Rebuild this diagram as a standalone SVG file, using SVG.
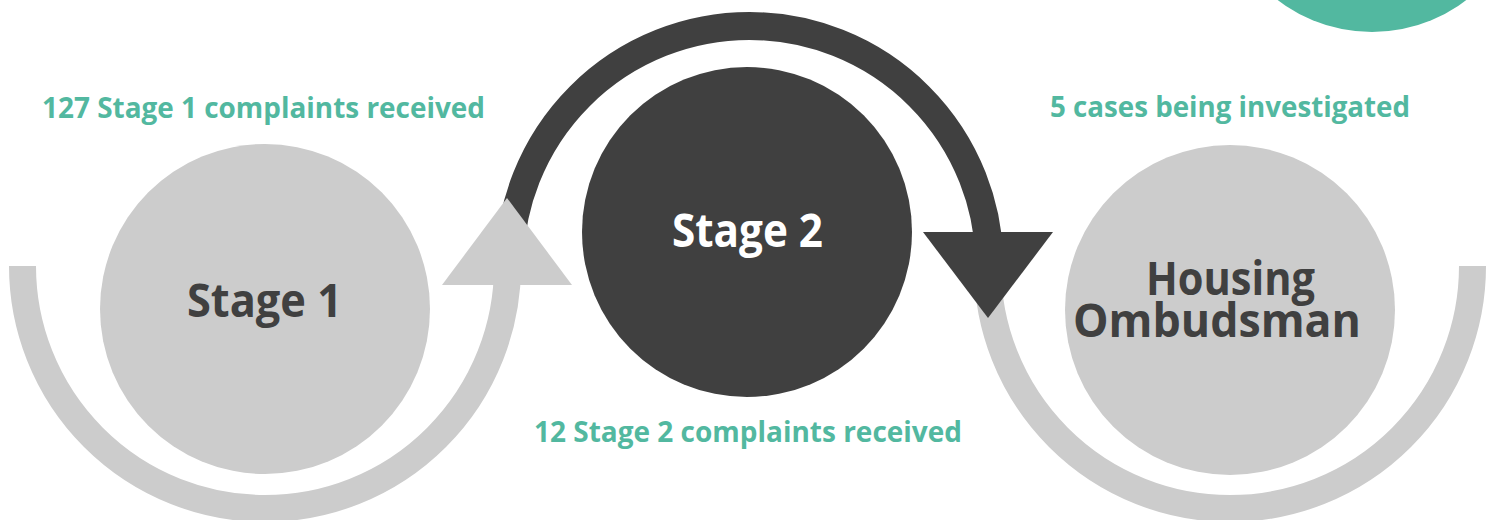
<svg xmlns="http://www.w3.org/2000/svg" width="1495" height="520" viewBox="0 0 1495 520">
  <style>
    .lbl { font-family: "Open Sans", "Liberation Sans", sans-serif; font-weight: 700; fill: #52b8a0; font-size: 29px; }
    .node-txt { font-family: "Open Sans", "Liberation Sans", sans-serif; font-weight: 700; font-size: 46px; }
    .gray-arc { fill: none; stroke: #cccccc; stroke-width: 27; }
    .dark-arc { fill: none; stroke: #404040; stroke-width: 28; }
  </style>
  <rect width="1495" height="520" fill="#ffffff"/>
  <circle id="deco" cx="1372" cy="-123" r="155" fill="#52b8a0"/>

  <g id="connectors">
    <path class="gray-arc" d="M 22.5 266 A 242.5 242.5 0 0 0 507.5 266"/>
    <path class="gray-arc" d="M 987.5 266 A 242.5 242.5 0 0 0 1472.5 266"/>
    <path class="dark-arc" d="M 509.5 266 A 240 240 0 0 1 989.5 266"/>
    <polygon points="923,232 1053,232 988,318" fill="#404040"/>
    <polygon points="442,285 572,285 507,198" fill="#cccccc"/>
  </g>

  <g id="stage1">
    <circle cx="265" cy="309" r="165" fill="#cccccc"/>
    <text class="node-txt" x="187" y="317" fill="#404040" textLength="155" lengthAdjust="spacingAndGlyphs">Stage 1</text>
  </g>
  <g id="stage2">
    <circle cx="747" cy="232" r="165" fill="#404040"/>
    <text class="node-txt" x="672" y="247" fill="#ffffff" textLength="151" lengthAdjust="spacingAndGlyphs">Stage 2</text>
  </g>
  <g id="ombudsman">
    <circle cx="1230" cy="310" r="165" fill="#cccccc"/>
    <text class="node-txt" x="1146" y="295" fill="#404040" textLength="169" lengthAdjust="spacingAndGlyphs">Housing</text>
    <text class="node-txt" x="1073" y="337" fill="#404040" textLength="288" lengthAdjust="spacingAndGlyphs">Ombudsman</text>
  </g>

  <g id="labels">
    <text class="lbl" x="42" y="118" textLength="443" lengthAdjust="spacingAndGlyphs">127 Stage 1 complaints received</text>
    <text class="lbl" x="1050" y="117" textLength="360" lengthAdjust="spacingAndGlyphs">5 cases being investigated</text>
    <text class="lbl" x="534" y="442" textLength="428" lengthAdjust="spacingAndGlyphs">12 Stage 2 complaints received</text>
  </g>
</svg>
